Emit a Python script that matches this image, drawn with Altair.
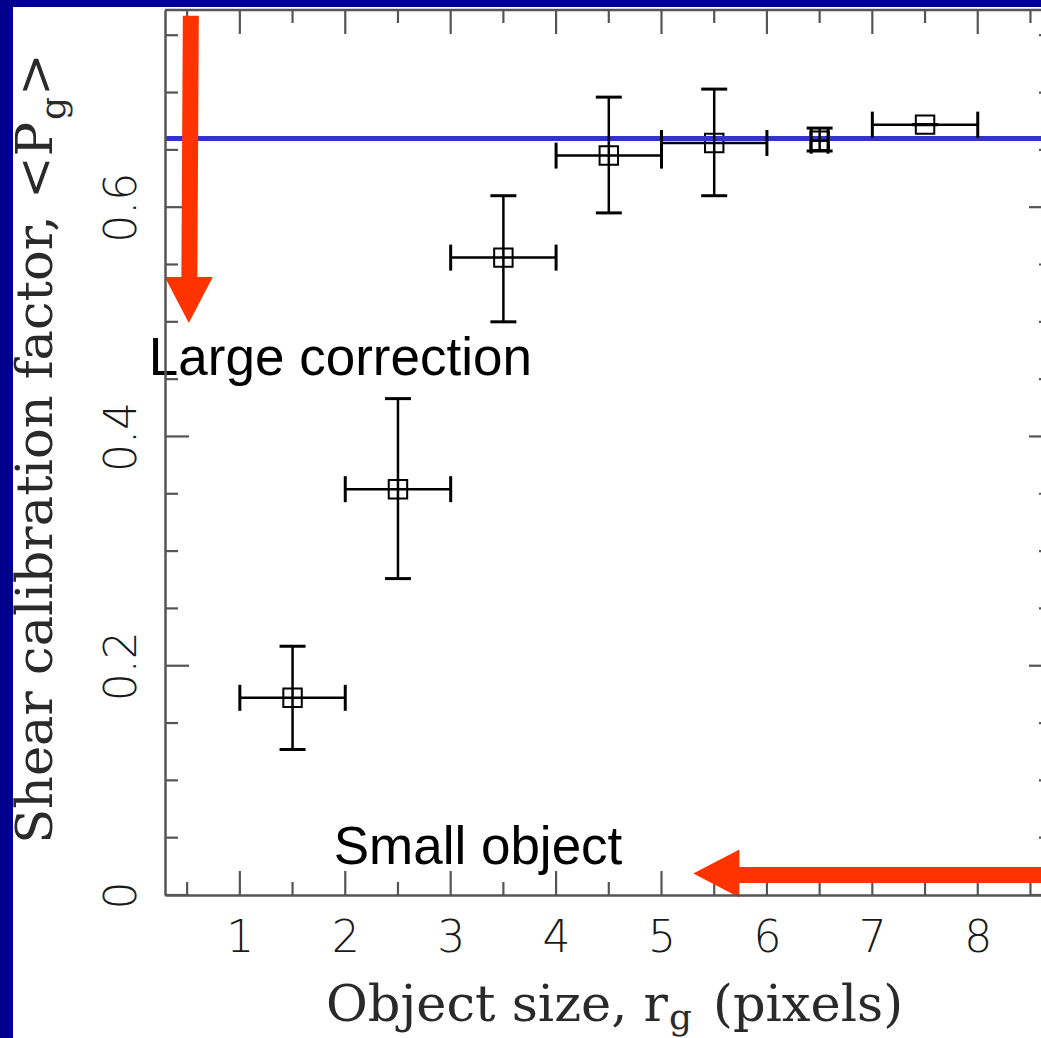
import altair as alt
import pandas as pd

# ---------------- data ----------------
x_center = [1.5, 2.5, 3.5, 4.5, 5.5, 6.5, 7.5]
p_mean = [0.172, 0.354, 0.556, 0.645, 0.656, 0.658, 0.672]
p_low = [0.127, 0.276, 0.500, 0.595, 0.610, 0.649, 0.672]
p_high = [0.217, 0.433, 0.610, 0.696, 0.703, 0.669, 0.672]
x_low = [1.0, 2.0, 3.0, 4.0, 5.0, 6.42, 7.0]
x_high = [2.0, 3.0, 4.0, 5.0, 6.0, 6.58, 8.0]
asymptote = [0.660]

x_major = [1, 2, 3, 4, 5, 6, 7, 8]
x_minor = [0.5, 1.5, 2.5, 3.5, 4.5, 5.5, 6.5, 7.5, 8.5]
y_major = [0.0, 0.2, 0.4, 0.6]
y_minor = [0.05, 0.1, 0.15, 0.25, 0.3, 0.35, 0.45, 0.5, 0.55, 0.65, 0.7, 0.75]

# annotation arrows (data units)
arrow_x0 = [0.535, 8.62]
arrow_x1 = [0.521, 5.72]
arrow_y0 = [0.767, 0.0174]
arrow_y1 = [0.538, 0.0174]
head_x = [0.516, 5.52]
head_y = [0.519, 0.0187]
head_angle = [0, 90]

note_text = ["Large correction", "Small object"]
note_x = [0.137, 1.890]
note_y = [0.4535, 0.027]

# ---------------- layout ----------------
W, H = 876, 885
PAD_L, PAD_T, PAD_B = 165, 10, 143
AX = "#555555"
NAVY = "#00008A"
RED = "#FF3300"
LBL = "#1a1a1a"

xs = alt.Scale(domain=[0.29, 8.6], nice=False, zero=False)
ys = alt.Scale(domain=[0, 0.772], nice=False, zero=False)

AXX = alt.Axis(
    values=x_major, title=None, ticks=False, tickSize=0, grid=False,
    domainColor=AX, domainWidth=2.5, labelFont="DejaVu Sans",
    labelFontWeight=200, labelFontSize=44, labelColor=LBL,
    labelPadding=21, labelFlush=False, labelOverlap=False, zindex=2)
AXY = alt.Axis(
    values=y_major, title=None, ticks=False, tickSize=0, grid=False,
    domainColor=AX, domainWidth=2.5, labelFont="DejaVu Sans",
    labelFontWeight=200, labelFontSize=44, labelColor=LBL,
    labelAngle=270, labelAlign="center", labelBaseline="alphabetic",
    labelPadding=30, labelFlush=False, labelOverlap=False, zindex=2,
    labelExpr="datum.value == 0 ? '0' : format(datum.value, '.1f')")


def X(field):
    return alt.X(field, type="quantitative", scale=xs, axis=AXX)


def Y(field):
    return alt.Y(field, type="quantitative", scale=ys, axis=AXY)


one = pd.DataFrame({"a": [0]})

bg = alt.Chart(one).mark_rect(color="white").encode(
    x=alt.value(13 - PAD_L), x2=alt.value(W + 5),
    y=alt.value(7 - PAD_T), y2=alt.value(H + PAD_B + 5)
)

pts = pd.DataFrame({"x": x_center, "y": p_mean, "ylo": p_low, "yhi": p_high,
                    "xlo": x_low, "xhi": x_high})

markers = alt.Chart(pts).mark_point(shape="square", size=340, filled=False,
                                     strokeWidth=2, color="#000000", opacity=1).encode(
    x=X("x"), y=Y("y"))

ebar_y = alt.Chart(pts).mark_rule(color="#000000", strokeWidth=2.5).encode(
    x=X("x"), y=Y("ylo"), y2="yhi:Q")
ebar_x = alt.Chart(pts).mark_rule(color="#000000", strokeWidth=2.5).encode(
    y=Y("y"), x=X("xlo"), x2="xhi:Q")

caps_y = pd.DataFrame({"x": x_center + x_center, "y": p_low + p_high})
caps_x = pd.DataFrame({"x": x_low + x_high, "y": p_mean + p_mean})
cap_y = alt.Chart(caps_y).mark_tick(orient="horizontal", size=26, thickness=3,
                                    color="#000000", opacity=1).encode(
    x=X("x"), y=Y("y"))
cap_x = alt.Chart(caps_x).mark_tick(orient="vertical", size=26, thickness=3,
                                    color="#000000", opacity=1).encode(
    x=X("x"), y=Y("y"))

blue = alt.Chart(pd.DataFrame({"v": asymptote})).mark_rule(
    color="#3333CC", strokeWidth=5).encode(y=Y("v"))


def ticks(vals, channel, side, length):
    df = pd.DataFrame({"v": vals})
    if channel == "x":
        enc = {"x": X("v")}
        if side == "bottom":
            enc.update(y=alt.value(H), y2=alt.value(H - length))
        else:
            enc.update(y=alt.value(0), y2=alt.value(length))
    else:
        enc = {"y": Y("v")}
        if side == "left":
            enc.update(x=alt.value(0), x2=alt.value(length))
        else:
            enc.update(x=alt.value(W - length), x2=alt.value(W))
    return alt.Chart(df).mark_rule(color=AX, strokeWidth=2.2).encode(**enc)


tick_layers = [
    ticks(x_major, "x", "bottom", 24), ticks(x_minor, "x", "bottom", 13),
    ticks(x_major, "x", "top", 24), ticks(x_minor, "x", "top", 13),
    ticks(y_major, "y", "left", 24), ticks(y_minor, "y", "left", 13),
    ticks(y_major, "y", "right", 12), ticks(y_minor, "y", "right", 2),
]

top_frame = alt.Chart(one).mark_rule(color=AX, strokeWidth=2.5).encode(
    x=alt.value(0), x2=alt.value(W), y=alt.value(0))

arrows = pd.DataFrame({"x0": arrow_x0, "x1": arrow_x1, "y0": arrow_y0, "y1": arrow_y1})
shafts = alt.Chart(arrows).mark_rule(color=RED, strokeWidth=16, strokeCap="butt").encode(
    x=X("x0"), x2="x1:Q", y=Y("y0"), y2="y1:Q")
heads_df = pd.DataFrame({"x": head_x, "y": head_y, "a": head_angle})
heads = alt.Chart(heads_df).mark_point(
    shape="M-1,-0.96L1,-0.96L0,0.96Z", size=2304, filled=True, color=RED,
    opacity=1, strokeWidth=0).encode(
    x=X("x"), y=Y("y"), angle=alt.Angle("a:Q", scale=None))

notes_df = pd.DataFrame({"t": note_text, "x": note_x, "y": note_y})
notes = alt.Chart(notes_df).mark_text(font="Liberation Sans", fontSize=53,
                                      align="left", baseline="alphabetic",
                                      color="black").encode(
    x=X("x"), y=Y("y"), text="t:N")

# axis titles with subscripts (text pieces)
TF = "DejaVu Serif"
TC = "#2a2a2a"
TS = 51
SS = 36
xt_main = alt.Chart(one).mark_text(text="Object size, r", font=TF, fontSize=TS,
                                   align="right", baseline="alphabetic", color=TC).encode(
    x=alt.value(503), y=alt.value(1011))
xt_sub = alt.Chart(one).mark_text(text="g", font=TF, fontSize=SS,
                                  align="left", baseline="alphabetic", color=TC).encode(
    x=alt.value(504), y=alt.value(1019))
xt_end = alt.Chart(one).mark_text(text="(pixels)", font=TF, fontSize=TS,
                                  align="left", baseline="alphabetic", color=TC).encode(
    x=alt.value(548), y=alt.value(1011))

yt_main = alt.Chart(one).mark_text(text="Shear calibration factor, <P", font=TF,
                                   fontSize=TS, angle=270, align="right",
                                   baseline="alphabetic", color=TC).encode(
    x=alt.value(-113), y=alt.value(112))
yt_sub = alt.Chart(one).mark_text(text="g", font=TF, fontSize=SS, angle=270,
                                  align="left", baseline="alphabetic", color=TC).encode(
    x=alt.value(-100), y=alt.value(110))
yt_end = alt.Chart(one).mark_text(text=">", font=TF, fontSize=TS, angle=270,
                                  align="left", baseline="alphabetic", color=TC).encode(
    x=alt.value(-113), y=alt.value(86))

chart = alt.layer(
    bg, markers, *tick_layers, top_frame, blue, ebar_y, ebar_x, cap_y, cap_x,
    shafts, heads, notes, xt_main, xt_sub, xt_end, yt_main, yt_sub, yt_end
).properties(
    width=W, height=H,
    autosize=alt.AutoSizeParams(type="none"),
    padding={"left": PAD_L, "top": PAD_T, "right": 0, "bottom": PAD_B},
    background=NAVY,
).configure_view(stroke=None)

chart.save("out.html", embed_options={"renderer": "svg", "actions": False})
